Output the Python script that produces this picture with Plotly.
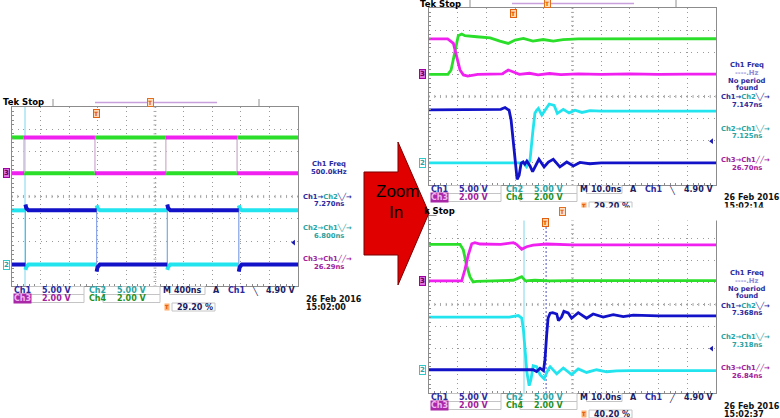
import plotly.graph_objects as go

W, H = 780, 418
FONT = "DejaVu Sans"

# ---------------- data (times in ns, levels in volts) ----------------
# Left capture, 400 ns/div
L_CH3_T = [0, 168, 168, 1160, 1160, 2152, 2152, 3148, 3148, 4000]
L_CH3_V = [0, 0, 3.2, 3.2, 0, 0, 3.2, 3.2, 0, 0]
L_CH4_T = [0, 168, 168, 1160, 1160, 2152, 2152, 3148, 3148, 4000]
L_CH4_V = [3.2, 3.2, 0, 0, 3.2, 3.2, 0, 0, 3.2, 3.2]
L_CH1_T = [0, 188, 188, 200, 230, 1184, 1184, 1196, 1230, 2172, 2172, 2184, 2214, 3172, 3172, 3184, 3214, 4000]
L_CH1_V = [0, 0, 13.4, 12.6, 12.1, 12.1, -1.6, -0.6, 0, 0, 13.4, 12.6, 12.1, 12.1, -1.6, -0.6, 0, 0]
L_CH2_T = [0, 188, 188, 200, 230, 1184, 1184, 1196, 1230, 2172, 2172, 2184, 2214, 3172, 3172, 3184, 3214, 4000]
L_CH2_V = [12.1, 12.1, -1.2, -0.5, 0, 0, 13.2, 12.6, 12.1, 12.1, -1.2, -0.5, 0, 0, 13.2, 12.6, 12.1, 12.1]
L_CURSORS = [182]

# Upper zoom, 10 ns/div (Ch1 falling edge)
RT_CH3_T = [0, 6.5, 8.5, 9.7, 10.8, 12.0, 13.5, 17, 22, 25.5, 27.6, 29.5, 31.5, 35, 38, 42, 46, 52, 60, 70, 80, 90, 100]
RT_CH3_V = [3.2, 3.2, 2.8, 1.6, 0.4, -0.05, -0.15, 0.0, 0.05, 0.05, 0.4, 0.2, 0.0, 0.1, -0.05, 0.08, -0.02, 0.05, 0.0, 0.04, 0.0, 0.03, 0.03]
RT_CH4_T = [0, 6.6, 7.7, 9.1, 10.2, 11.4, 12.5, 16.6, 21.3, 24.7, 27.6, 30.0, 32.9, 36.2, 39.8, 43.3, 46.7, 52, 60, 70, 80, 90, 100]
RT_CH4_V = [0.0, 0.0, 0.4, 2.2, 3.5, 3.65, 3.5, 3.4, 3.3, 3.0, 2.8, 3.1, 3.25, 3.0, 3.15, 3.0, 3.15, 3.2, 3.2, 3.22, 3.22, 3.22, 3.22]
RT_CH1_T = [0, 20, 25, 26.5, 27.9, 28.6, 29.3, 30.0, 30.7, 31.4, 32.1, 32.8, 33.4, 34.1, 35.2, 36.1, 37.3, 38.3, 40.1, 41.6,
            43.3, 45.6, 48.0, 50.3, 52.6, 56, 60, 70, 100]
RT_CH1_V = [12.0, 12.0, 12.1, 12.5, 11.9, 9.7, 5.1, -0.5, -3.7, -2.8, -0.1, 0.2, -0.3, 0.4, -0.7, -2.0, -0.5, 0.8, -0.9, 0.2,
            0.8, -0.9, 0.2, -0.7, 0.1, -0.2, 0.0, 0.0, 0.0]
RT_CH2_T = [0, 32.8, 34.0, 35.2, 36.1, 36.9, 37.5, 38.1, 39.3, 40.7, 41.9, 43.6, 44.7, 46.8, 48.8, 50.9, 53.3, 56.1, 60, 70, 100]
RT_CH2_V = [0.0, 0.0, -0.9, 0.6, 6.6, 11.2, 11.9, 12.3, 10.8, 12.1, 13.3, 13.0, 11.2, 12.1, 11.3, 11.9, 11.4, 11.8, 11.7, 11.7, 11.7]
RT_CURSORS = []

# Lower zoom, 10 ns/div (Ch1 rising edge)
RB_CH3_T = [0, 11.4, 12.5, 13.7, 14.9, 16.0, 17.8, 25, 29.4, 30.5, 32.3, 34.0, 36.3, 41, 50, 60, 100]
RB_CH3_V = [0.0, 0.0, 1.0, 2.35, 3.35, 3.45, 3.33, 3.3, 3.45, 3.3, 2.85, 3.08, 3.23, 3.33, 3.25, 3.25, 3.25]
RB_CH4_T = [0, 10.8, 11.95, 13.1, 14.3, 15.4, 16.6, 21.3, 26.5, 29.4, 32.3, 33.6, 36.9, 42, 50, 60, 100]
RB_CH4_V = [3.3, 3.3, 2.8, 1.4, 0.35, -0.1, -0.05, 0.0, 0.08, 0.05, 0.38, 0.0, 0.05, 0.0, 0.02, 0.02, 0.02]
RB_CH1_T = [0, 30, 36.3, 37.5, 38.7, 39.9, 40.4, 41.0, 41.5, 42.2, 43.1, 44.5, 45.1, 46.2, 47.0, 48.5, 49.7, 52.0, 54.9, 57.2,
            60.7, 64.2, 67.7, 71.2, 80, 100]
RB_CH1_V = [0.1, 0.1, 0.1, -0.3, 0.45, -0.1, 2.35, 8.0, 11.8, 12.9, 13.0, 12.7, 11.2, 12.05, 13.3, 12.95, 11.75, 13.0, 11.75, 12.7,
            12.0, 12.55, 12.1, 12.45, 12.3, 12.3]
RB_CH2_T = [0, 28, 31.1, 32.3, 32.9, 33.4, 34.1, 34.9, 35.5, 36.3, 37.5, 38.7, 40.1, 41.5, 42.2, 44.5, 46.8, 49.7, 52.0, 54.9,
            58.4, 61.9, 65.4, 70, 100]
RB_CH2_V = [12.0, 12.0, 12.35, 11.8, 9.1, 4.6, -0.4, -3.5, -2.2, 1.0, 0.8, -1.0, -1.95, 0.1, 0.8, -0.8, 0.5, -1.0, 0.3, -0.5,
            0.1, -0.35, -0.15, -0.1, -0.1]
RB_CURSORS = [33.1, 40.8]

# scope settings / readouts
TIME_DIV = [400, 10, 10]
TIME_DIV_LABEL = ["400ns", "10.0ns", "10.0ns"]
TRIG_T = [1184, 29.5, 40.5]
TRIG_LEVEL = 4.90
TRIG_EDGE = ["╲", "╲", "╱"]
CH_SCALE = {1: 5.0, 2: 5.0, 3: 2.0, 4: 2.0}
POS_CH34 = [1.04, 1.0, 1.07]     # ground marker positions (div from centre)
POS_CH12 = [-3.04, -3.0, -2.97]
FREQ_TEXT = [["Ch1 Freq", "500.0kHz"], ["Ch1 Freq", "----.Hz", "No period", "found"],
             ["Ch1 Freq", "----.Hz", "No period", "found"]]
DELAY_12 = ["7.270ns", "7.147ns", "7.368ns"]
DELAY_21 = ["6.800ns", "7.125ns", "7.318ns"]
DELAY_31 = ["26.29ns", "26.70ns", "26.84ns"]
PCT = ["29.20 %", "29.20 %", "40.20 %"]
DATE = ["26 Feb 2016", "26 Feb 2016", "26 Feb 2016"]
CLOCK = ["15:02:00", "15:02:14", "15:02:37"]

WAVES = [
    dict(c1=(L_CH1_T, L_CH1_V), c2=(L_CH2_T, L_CH2_V), c3=(L_CH3_T, L_CH3_V), c4=(L_CH4_T, L_CH4_V), cur=L_CURSORS),
    dict(c1=(RT_CH1_T, RT_CH1_V), c2=(RT_CH2_T, RT_CH2_V), c3=(RT_CH3_T, RT_CH3_V), c4=(RT_CH4_T, RT_CH4_V), cur=RT_CURSORS),
    dict(c1=(RB_CH1_T, RB_CH1_V), c2=(RB_CH2_T, RB_CH2_V), c3=(RB_CH3_T, RB_CH3_V), c4=(RB_CH4_T, RB_CH4_V), cur=RB_CURSORS),
]

# ---------------- layout geometry (pixels) ----------------
GEOM = [dict(gl=12, gr=298, gt=107, gb=286, hdr_mark=150),
        dict(gl=429, gr=716, gt=8, gb=185, hdr_mark=547),
        dict(gl=429, gr=716, gt=216, gb=393, hdr_mark=562)]

COL = {1: "#1212c8", 2: "#22e4ee", 3: "#f020f0", 4: "#2ade2a"}
EDGE_COL = {1: "#8a9ae8", 2: "#9ee8f0", 3: "#f0a0f0", 4: "#a0eea0"}
TXT_BLUE = "#2a2a9e"
TXT_TEAL = "#2aa2a2"
TXT_MAG = "#a0209a"
TXT_GRN = "#1f901f"
GRIDC = "#9a9a9a"


def px(x):
    return x / W


def py(y):
    return 1 - y / H


fig = go.Figure()
annotations = []
shapes = []


def txt(x, y, s, color="#000", size=8, anchor="left", bold=True, bg=None, border=None, family=FONT):
    a = dict(x=px(x), y=py(y), xref="paper", yref="paper", text=("<b>%s</b>" % s) if bold else s,
             showarrow=False, xanchor=anchor, yanchor="middle",
             font=dict(family=family, size=size, color=color), borderpad=0)
    if bg:
        a["bgcolor"] = bg
    if border:
        a["bordercolor"] = border
        a["borderwidth"] = 1
    annotations.append(a)


def rect(x0, y0, x1, y1, color="#c4c4c4"):
    shapes.append(dict(type="rect", xref="paper", yref="paper", x0=px(x0), x1=px(x1), y0=py(y1), y1=py(y0),
                       line=dict(color=color, width=1), layer="above"))


def hline(x0, x1, y, color, width=1.5):
    shapes.append(dict(type="line", xref="paper", yref="paper", x0=px(x0), x1=px(x1), y0=py(y), y1=py(y),
                       line=dict(color=color, width=width), layer="above"))


def vline(x, y0, y1, color="#909090", width=1):
    shapes.append(dict(type="line", xref="paper", yref="paper", x0=px(x), x1=px(x), y0=py(y0), y1=py(y1),
                       line=dict(color=color, width=width), layer="above"))


def split_edges(t, y):
    fx, fy, ex, ey = [], [], [], []
    for i in range(len(t) - 1):
        if t[i] == t[i + 1]:
            ex += [t[i], t[i + 1], None]
            ey += [y[i], y[i + 1], None]
        else:
            if fx and fx[-1] == t[i] and fy[-1] == y[i]:
                fx.append(t[i + 1]); fy.append(y[i + 1])
            else:
                if fx:
                    fx.append(None); fy.append(None)
                fx += [t[i], t[i + 1]]; fy += [y[i], y[i + 1]]
    return fx, fy, ex, ey


PS = 6.8  # side-panel font size

for k in range(3):
    g = GEOM[k]
    td = TIME_DIV[k]
    xa = "xaxis" if k == 0 else "xaxis%d" % (k + 1)
    ya = "yaxis" if k == 0 else "yaxis%d" % (k + 1)
    xr = "x" if k == 0 else "x%d" % (k + 1)
    yr = "y" if k == 0 else "y%d" % (k + 1)
    fig.update_layout(**{
        xa: dict(domain=[px(g["gl"]), px(g["gr"])], range=[0, 10 * td], dtick=td, tick0=0,
                 showgrid=True, gridcolor=GRIDC, griddash="1px,3.4px", gridwidth=1,
                 zeroline=False, showticklabels=False, showline=True, linecolor="#8c8c8c", linewidth=1,
                 mirror=True, ticks="", anchor=yr, fixedrange=True,
                 minor=dict(dtick=td / 5, ticks="inside", ticklen=2, tickcolor="#8c8c8c", showgrid=False)),
        ya: dict(domain=[py(g["gb"]), py(g["gt"])], range=[-4, 4], dtick=1, tick0=0,
                 showgrid=True, gridcolor=GRIDC, griddash="1px,4.7px", gridwidth=1,
                 zeroline=False, showticklabels=False, showline=True, linecolor="#8c8c8c", linewidth=1,
                 mirror=True, ticks="", anchor=xr, fixedrange=True,
                 minor=dict(dtick=0.2, ticks="inside", ticklen=2, tickcolor="#8c8c8c", showgrid=False)),
    })
    # centre cross ticks
    cx, cy = [], []
    for i in range(51):
        t = i * td / 5
        cx += [t, t, None]; cy += [-0.07, 0.07, None]
    for i in range(41):
        v = -4 + i * 0.2
        cx += [5 * td - 0.05 * td, 5 * td + 0.05 * td, None]; cy += [v, v, None]
    fig.add_trace(go.Scatter(x=cx, y=cy, mode="lines", line=dict(color="#a8a8a8", width=1),
                             xaxis=xr, yaxis=yr, hoverinfo="skip", showlegend=False))

    # cursors
    for j, ct in enumerate(WAVES[k]["cur"]):
        fig.add_trace(go.Scatter(x=[ct, ct], y=[-4, 4], mode="lines",
                                 line=dict(color="#7fd6ee" if j == 0 else "#5050c0", width=1,
                                           dash="solid" if j == 0 else "2px,2px"),
                                 xaxis=xr, yaxis=yr, hoverinfo="skip", showlegend=False))

    wid = 4 if k == 0 else 2.8
    for ch in (4, 3, 2, 1):
        t, v = WAVES[k]["c%d" % ch]
        ground = POS_CH34[k] if ch >= 3 else POS_CH12[k]
        yy = [ground + val / CH_SCALE[ch] for val in v]
        fx, fy, ex, ey = split_edges(t, yy)
        if ex:
            fig.add_trace(go.Scatter(x=ex, y=ey, mode="lines", line=dict(color=EDGE_COL[ch], width=1),
                                     xaxis=xr, yaxis=yr, hoverinfo="skip", showlegend=False))
        fig.add_trace(go.Scatter(x=fx, y=fy, mode="lines", line=dict(color=COL[ch], width=wid),
                                 xaxis=xr, yaxis=yr, hoverinfo="skip", showlegend=False))

    # trigger level marker on right edge
    fig.add_trace(go.Scatter(x=[9.85 * td], y=[POS_CH12[k] + TRIG_LEVEL / CH_SCALE[1]], mode="markers",
                             marker=dict(symbol="triangle-left", size=5, color="#1a1ab0"),
                             xaxis=xr, yaxis=yr, hoverinfo="skip", showlegend=False, cliponaxis=False))

    gl, gr, gt, gb = g["gl"], g["gr"], g["gt"], g["gb"]
    yscale = (gb - gt) / 8.0

    # header
    hy = gt - 4.5
    if k == 2:
        txt(423, hy, "k Stop", "#000", 8.5)
    else:
        txt(gl - 10, hy, "Tek Stop", "#000", 8.5)
    vline(gl + 41, gt - 8, gt - 1)
    vline(gl + 247, gt - 8, gt - 1)
    hline(gl + 83, gl + 205, hy, "#c8a0dc", 1.5)
    txt(g["hdr_mark"], hy, "T", "#e06000", 6, anchor="center", bg="#ffe0c0", border="#e07020")
    # trigger position marker
    trig_x = gl + TRIG_T[k] / (10 * td) * (gr - gl)
    txt(trig_x, gt + 6, "T", "#e05000", 6, anchor="center", bg="#ffd8b0", border="#e06010")

    # channel ground markers
    txt(gl - 6, gt + (4 - POS_CH34[k]) * yscale, "3", "#5a005a", 7, anchor="center", bg="#e070e0", border="#a000a0")
    txt(gl - 6, gt + (4 - POS_CH12[k]) * yscale, "2", TXT_TEAL, 7, anchor="center", bg="#ffffff", border="#30c8c8")

    # footer readouts
    r1, r2, r3 = gb + 4.5, gb + 12.5, gb + 21
    rect(gl + 17, gb + 0.5, gl + 72, gb + 8.5)
    rect(gl + 17, gb + 8.5, gl + 72, gb + 16.5)
    rect(gl + 91, gb + 0.5, gl + 148, gb + 8.5)
    rect(gl + 91, gb + 8.5, gl + 148, gb + 16.5)
    rect(gl + 157.5, gb + 0.5, gl + 193, gb + 8.5)
    txt(gl + 0.5, r1, "Ch1", TXT_BLUE)
    txt(gl + 29, r1, "5.00 V", TXT_BLUE)
    txt(gl + 76, r1, "Ch2", TXT_TEAL)
    txt(gl + 104, r1, "5.00 V", TXT_TEAL)
    txt(gl + 150, r1, "M", "#202060")
    txt(gl + 161, r1, TIME_DIV_LABEL[k], "#202060")
    txt(gl + 200, r1, "A", "#202060")
    txt(gl + 215, r1, "Ch1", TXT_BLUE)
    txt(gl + 239, r1, TRIG_EDGE[k], "#202060")
    txt(gr - 1, r1, "%.2f V" % TRIG_LEVEL, "#202060", anchor="right")
    txt(gl + 0.5, r2, "Ch3", "#f0b8f0", bg="#a828a8")
    txt(gl + 29, r2, "2.00 V", TXT_MAG)
    txt(gl + 76, r2, "Ch4", TXT_GRN)
    txt(gl + 104, r2, "2.00 V", TXT_GRN)
    rect(gl + 160, gb + 17, gl + 203, gb + 25)
    txt(gl + 155, r3, "T", "#e05000", 5, anchor="center", bg="#ffb070")
    txt(gl + 164, r3, PCT[k], "#202060")
    txt(gr + 7, gb + 13, DATE[k], "#111", 8)
    txt(gr + 7, gb + 21, CLOCK[k], "#111", 8)

    # right-side measurement panel
    cxp = gr + 31
    fy0 = [57, 65, 72.5, 80]
    fcol = [TXT_BLUE, "#8c8cd8", TXT_BLUE, TXT_BLUE]
    for i, line in enumerate(FREQ_TEXT[k]):
        txt(cxp, gt + fy0[i], line, fcol[i] if k > 0 or i == 0 else TXT_BLUE, PS, anchor="center")
    txt(gr + 4, gt + 89, "Ch1→<span style='color:%s'>Ch2</span>╲╱→" % TXT_TEAL, TXT_BLUE, PS)
    txt(cxp, gt + 97, DELAY_12[k], TXT_BLUE, PS, anchor="center")
    txt(gr + 4, gt + 120.5, "Ch2→Ch1╲╱→", TXT_TEAL, PS)
    txt(cxp, gt + 128.5, DELAY_21[k], TXT_TEAL, PS, anchor="center")
    txt(gr + 4, gt + 151.5, "Ch3→Ch1╱╱→", TXT_MAG, PS)
    txt(cxp, gt + 159.5, DELAY_31[k], TXT_MAG, PS, anchor="center")

    if k == 1:
        # lower capture sits on top of the upper capture's last readout line
        annotations.append(dict(x=px(436), y=py(206.5), xref="paper", yref="paper", text=" ", showarrow=False,
                                xanchor="left", yanchor="top", width=344, height=10, bgcolor="#ffffff",
                                font=dict(size=6)))

# "Zoom In" arrow
ax = [364, 398, 398, 429, 398, 398, 364]
ay = [172, 172, 142, 213, 285, 255, 255]
path = "M " + " L ".join("%f,%f" % (px(a), py(b)) for a, b in zip(ax, ay)) + " Z"
shapes.append(dict(type="path", xref="paper", yref="paper", path=path, fillcolor="#e00000",
                   line=dict(color="#7a0000", width=1), layer="above"))
txt(397, 192, "Zoom", "#000", 17, anchor="center", bold=False, family="Liberation Sans")
txt(396, 212, "In", "#000", 17, anchor="center", bold=False, family="Liberation Sans")

fig.update_layout(width=W, height=H, margin=dict(l=0, r=0, t=0, b=0), paper_bgcolor="white",
                  plot_bgcolor="white", showlegend=False, annotations=annotations, shapes=shapes)
fig.write_html("out.html", config={"displayModeBar": False},
               post_script="document.body.style.margin='0px';document.body.style.padding='0px';")
